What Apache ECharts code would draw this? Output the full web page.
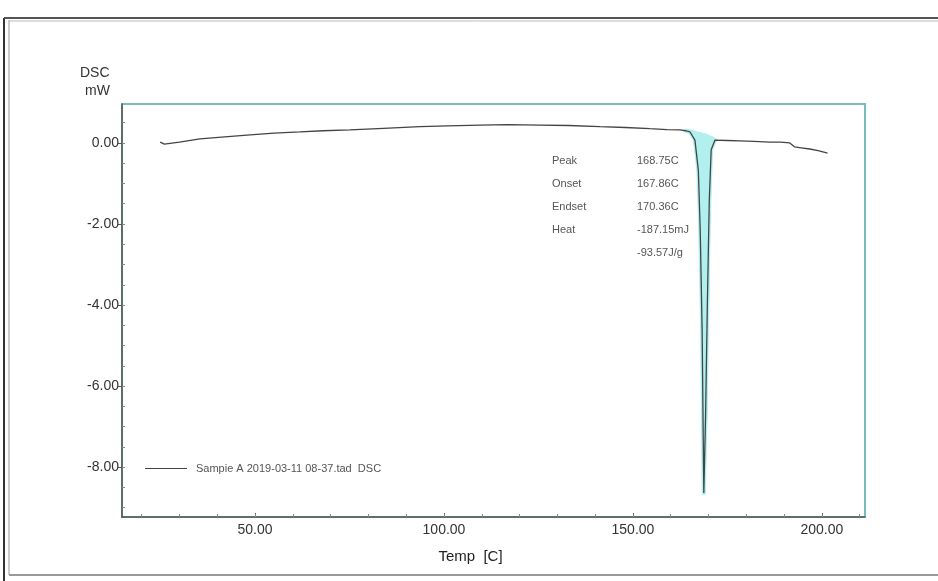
<!DOCTYPE html>
<html>
<head>
<meta charset="utf-8">
<script src="https://cdn.jsdelivr.net/npm/echarts@6/dist/echarts.min.js"></script>
<style>
html,body{margin:0;padding:0;background:#fff;}
#c{width:938px;height:581px;}
</style>
</head>
<body>
<div id="c"></div>
<script>
// ---- data ----
const seriesName = 'Sampie A 2019-03-11 08-37.tad  DSC';
const temps = [24.9, 26.0, 30.0, 35.4, 42.0, 48.7, 55.0, 61.9, 68.0, 75.1, 84.0, 93.6, 101.0, 109.5, 117.0, 125.4, 133.0, 141.3, 148.0, 154.5, 159.0, 162.4, 164.0, 165.1, 166.4, 167.3, 167.8, 168.3, 168.6, 168.75, 169.2, 169.7, 170.2, 170.7, 171.7, 175.0, 178.3, 182.0, 186.2, 189.0, 191.5, 192.8, 194.5, 196.8, 199.0, 201.5];
const dsc   = [0.02, -0.03, 0.02, 0.10, 0.15, 0.20, 0.24, 0.27, 0.30, 0.32, 0.36, 0.40, 0.42, 0.44, 0.45, 0.44, 0.43, 0.40, 0.38, 0.35, 0.33, 0.32, 0.30, 0.27, 0.07, -0.67, -2.15, -4.60, -7.30, -8.64, -6.80, -3.90, -1.40, -0.17, 0.07, 0.06, 0.05, 0.04, 0.02, 0.02, 0.00, -0.10, -0.12, -0.15, -0.19, -0.25];
// shaded peak region: curve vs. integration baseline
const fillTemps    = [164.0, 165.1, 166.4, 167.3, 167.8, 168.3, 168.6, 168.75, 169.2, 169.7, 170.2, 170.7, 171.7];
const fillCurve    = [0.30, 0.27, 0.07, -0.67, -2.15, -4.60, -7.30, -8.64, -6.80, -3.90, -1.40, -0.17, 0.07];
const fillBaseline = [0.30, 0.28, 0.25, 0.23, 0.22, 0.20, 0.19, 0.19, 0.18, 0.16, 0.14, 0.12, 0.07];
// axes
const xRange = [14.8, 211.4];
const yRange = [-9.23, 0.96];
const xMajor = [50, 100, 150, 200];
const xMinor = [20, 30, 40, 50, 60, 70, 80, 90, 100, 110, 120, 130, 140, 150, 160, 170, 180, 190, 200, 210];
const yMajor = [-8, -6, -4, -2, 0];
const yMinor = [-9, -8.5, -8, -7.5, -7, -6.5, -6, -5.5, -5, -4.5, -4, -3.5, -3, -2.5, -2, -1.5, -1, -0.5, 0, 0.5];
// annotation
const annLabels = ['Peak', 'Onset', 'Endset', 'Heat', ''];
const annValues = ['168.75C', '167.86C', '170.36C', '-187.15mJ', '-93.57J/g'];

const FONT = '"Liberation Sans", Arial, sans-serif';
const mainData = temps.map((t, i) => [t, dsc[i]]);
// each fill item = one segment quad between the curve and the baseline
const fillData = [];
for (let i = 0; i < fillTemps.length - 1; i++) {
  fillData.push([fillTemps[i], fillCurve[i], fillBaseline[i], fillTemps[i + 1], fillCurve[i + 1], fillBaseline[i + 1]]);
}

const annGraphics = [];
const annTop = 155, annStep = 23;
annLabels.forEach((l, i) => {
  if (l) annGraphics.push({type: 'text', left: 552, top: annTop + i * annStep, style: {text: l, font: '11px ' + FONT, fill: '#555'}});
  annGraphics.push({type: 'text', left: 637, top: annTop + i * annStep, style: {text: annValues[i], font: '11px ' + FONT, fill: '#555'}});
});

const chart = echarts.init(document.getElementById('c'), null, {renderer: 'canvas'});
chart.setOption({
  animation: false,
  backgroundColor: '#fff',
  grid: {left: 122, top: 104, right: 73, bottom: 64, show: true, borderColor: '#78bcbc', borderWidth: 2, backgroundColor: 'transparent'},
  legend: {
    data: [seriesName], left: 140, top: 458, icon: 'rect', itemWidth: 42, itemHeight: 1,
    textStyle: {fontFamily: FONT, fontSize: 11, color: '#555', padding: [0, 0, 0, 4]}
  },
  xAxis: [{
    type: 'value', min: xRange[0], max: xRange[1],
    name: 'Temp  [C]', nameLocation: 'middle', nameGap: 32,
    nameTextStyle: {fontFamily: FONT, fontSize: 15, color: '#222', padding: [0, 46, 0, 0]},
    axisLine: {show: true, onZero: false, lineStyle: {color: '#555', width: 1.5}},
    axisTick: {show: true, customValues: xMajor, length: 4, inside: true, lineStyle: {color: '#555'}},
    axisLabel: {customValues: xMajor, formatter: v => v.toFixed(2), fontFamily: FONT, fontSize: 14, color: '#333', margin: 6},
    splitLine: {show: false}
  }, {
    type: 'value', min: xRange[0], max: xRange[1], position: 'bottom',
    axisLine: {show: false, onZero: false},
    axisTick: {show: true, customValues: xMinor, length: 3, inside: true, lineStyle: {color: '#888'}},
    axisLabel: {show: false}, splitLine: {show: false}
  }],
  yAxis: [{
    type: 'value', min: yRange[0], max: yRange[1],
    axisLine: {show: true, onZero: false, lineStyle: {color: '#555', width: 1.5}},
    axisTick: {show: true, customValues: yMajor, length: 4, lineStyle: {color: '#555'}},
    axisLabel: {customValues: yMajor, formatter: v => v.toFixed(2), fontFamily: FONT, fontSize: 14, color: '#333', margin: 3},
    splitLine: {show: false}
  }, {
    type: 'value', min: yRange[0], max: yRange[1], position: 'left',
    axisLine: {show: false, onZero: false},
    axisTick: {show: true, customValues: yMinor, length: 3, inside: true, lineStyle: {color: '#888'}},
    axisLabel: {show: false}, splitLine: {show: false}
  }],
  graphic: [
    {type: 'line', shape: {x1: 4, y1: 18, x2: 4, y2: 581}, style: {stroke: '#333', lineWidth: 2}},
    {type: 'line', shape: {x1: 9, y1: 20, x2: 9, y2: 575}, style: {stroke: '#999', lineWidth: 1}},
    {type: 'line', shape: {x1: 4, y1: 18, x2: 938, y2: 18}, style: {stroke: '#555', lineWidth: 2}},
    {type: 'line', shape: {x1: 9, y1: 21, x2: 938, y2: 21}, style: {stroke: '#bbb', lineWidth: 1}},
    {type: 'line', shape: {x1: 9, y1: 575, x2: 938, y2: 575}, style: {stroke: '#999', lineWidth: 2}},
    {type: 'text', left: 80, top: 66, style: {text: 'DSC', font: '14px ' + FONT, fill: '#333'}},
    {type: 'text', left: 85, top: 84, style: {text: 'mW', font: '14px ' + FONT, fill: '#333'}},
    ...annGraphics
  ],
  series: [
    {
      name: 'area', type: 'custom', data: fillData, silent: true, z: 1,
      encode: {x: [0, 3], y: [1, 2, 4, 5]},
      renderItem: function (params, api) {
        const p1 = api.coord([api.value(0), api.value(1)]);
        const p2 = api.coord([api.value(3), api.value(4)]);
        const p3 = api.coord([api.value(3), api.value(5)]);
        const p4 = api.coord([api.value(0), api.value(2)]);
        return {
          type: 'polygon',
          shape: {points: [p1, p2, p3, p4]},
          style: {fill: '#b2f0f0', stroke: '#b2f0f0', lineWidth: 4, lineJoin: 'round'}
        };
      }
    },
    {
      name: seriesName, type: 'line', data: mainData, symbol: 'none', smooth: false,
      lineStyle: {color: '#444', width: 1.3}, itemStyle: {color: '#444'}, z: 3
    }
  ]
});
</script>
</body>
</html>
